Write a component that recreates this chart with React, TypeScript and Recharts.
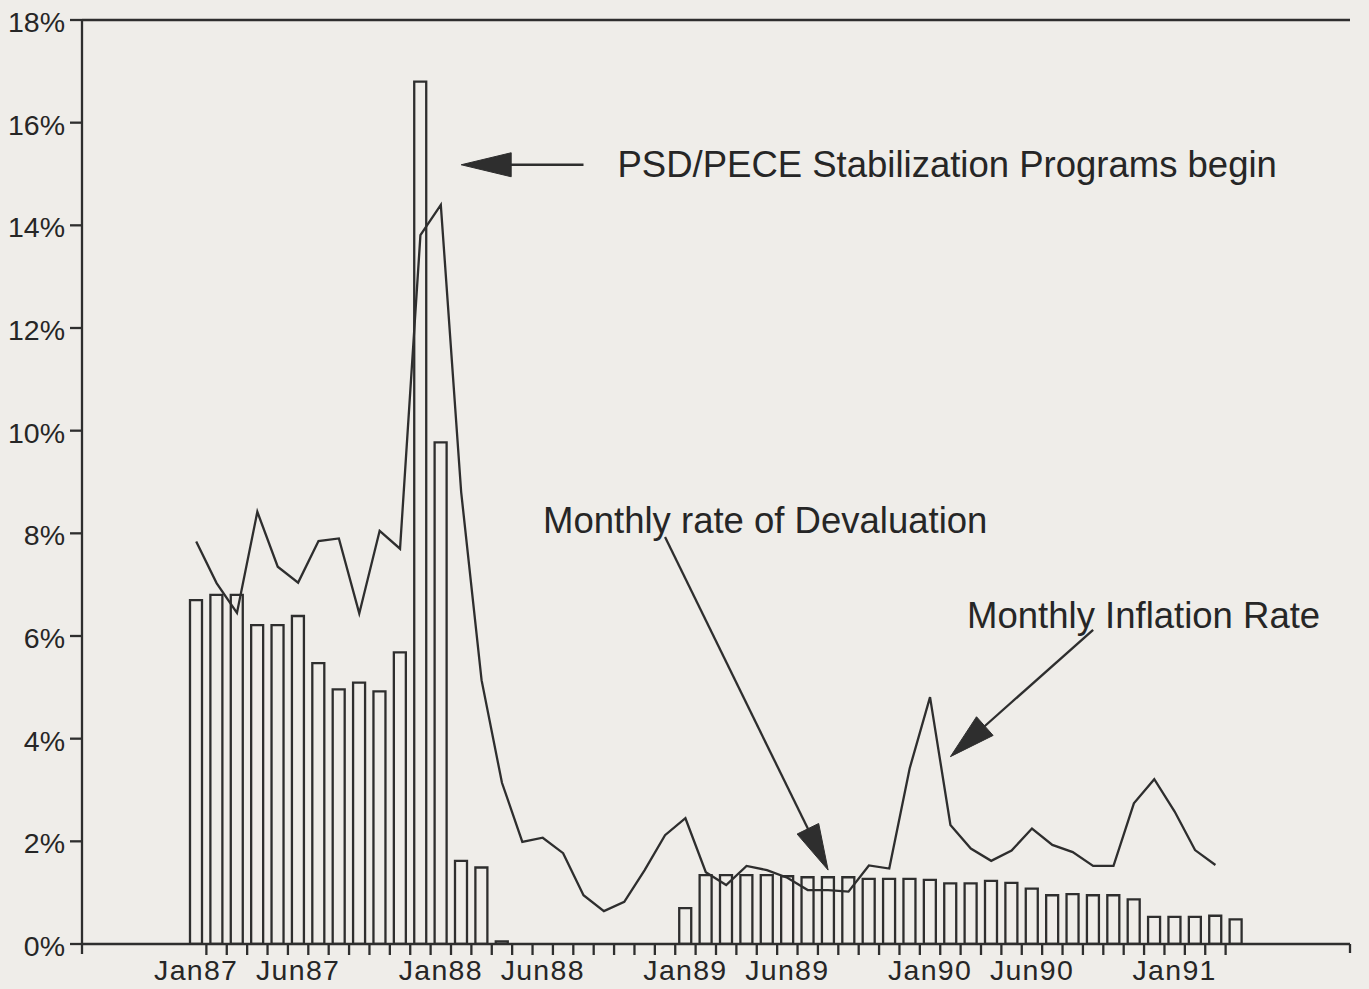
import React from 'react';
import { ComposedChart, Bar, Line, XAxis, YAxis, ReferenceLine } from 'recharts';

const MONTHS = [
  'Jan87', 'Feb87', 'Mar87', 'Apr87', 'May87', 'Jun87', 'Jul87', 'Aug87', 'Sep87', 'Oct87', 'Nov87', 'Dec87',
  'Jan88', 'Feb88', 'Mar88', 'Apr88', 'May88', 'Jun88', 'Jul88', 'Aug88', 'Sep88', 'Oct88', 'Nov88', 'Dec88',
  'Jan89', 'Feb89', 'Mar89', 'Apr89', 'May89', 'Jun89', 'Jul89', 'Aug89', 'Sep89', 'Oct89', 'Nov89', 'Dec89',
  'Jan90', 'Feb90', 'Mar90', 'Apr90', 'May90', 'Jun90', 'Jul90', 'Aug90', 'Sep90', 'Oct90', 'Nov90', 'Dec90',
  'Jan91', 'Feb91', 'Mar91', 'Apr91',
];

// Monthly rate of devaluation (%), bars
const DEVALUATION = [
  6.70, 6.80, 6.80, 6.21, 6.21, 6.39, 5.47, 4.96, 5.09, 4.92, 5.68, 16.80,
  9.77, 1.62, 1.49, 0.05, 0, 0, 0, 0, 0, 0, 0, 0,
  0.70, 1.34, 1.34, 1.34, 1.34, 1.32, 1.30, 1.30, 1.30, 1.27, 1.27, 1.27,
  1.25, 1.18, 1.18, 1.23, 1.19, 1.08, 0.95, 0.97, 0.95, 0.95, 0.87, 0.53,
  0.53, 0.53, 0.55, 0.48,
];

// Monthly inflation rate (%), line
const INFLATION: (number | null)[] = [
  7.84, 7.03, 6.45, 8.42, 7.35, 7.04, 7.85, 7.90, 6.44, 8.05, 7.70, 13.81,
  14.40, 8.80, 5.14, 3.14, 1.99, 2.07, 1.77, 0.95, 0.64, 0.82, 1.44, 2.12,
  2.45, 1.40, 1.15, 1.52, 1.44, 1.29, 1.05, 1.05, 1.02, 1.53, 1.47, 3.42,
  4.81, 2.32, 1.86, 1.62, 1.82, 2.25, 1.93, 1.79, 1.52, 1.52, 2.74, 3.21,
  2.58, 1.83, 1.54, null,
];

const TICK_LABELS = ['Jan87', 'Jun87', 'Jan88', 'Jun88', 'Jan89', 'Jun89', 'Jan90', 'Jun90', 'Jan91'];
const Y_TICKS = [0, 2, 4, 6, 8, 10, 12, 14, 16, 18];

// Annotation anchors (category, value)
const PSD_ARROW = [{ x: 'Aug88', y: 15.18 }, { x: 'Feb88', y: 15.18 }];
const DEV_ARROW = [{ x: 'Dec88', y: 7.93 }, { x: 'Aug89', y: 1.44 }];
const INF_ARROW = [{ x: 'Sep90', y: 6.12 }, { x: 'Feb90', y: 3.65 }];

const data = MONTHS.map((m, i) => ({ month: m, dev: DEVALUATION[i], inf: INFLATION[i] }));

const W = 1369;
const H = 989;
const MARGIN = { top: 20, right: 19, left: 0, bottom: 0 };
const YAXIS_W = 82;
const XAXIS_H = 45;
const PAD = 104;
const PLOT_LEFT = MARGIN.left + YAXIS_W;
const PLOT_RIGHT = W - MARGIN.right;
const BAND = (PLOT_RIGHT - PLOT_LEFT - 2 * PAD) / MONTHS.length;

const INK = '#2e2e2e';
const TEXT = '#262626';
const BG = '#efede9';
const SW = 2.3;
const FONT = "'Liberation Sans', Arial, Helvetica, sans-serif";

const XTick = (props: any) => {
  const { x, y, payload } = props;
  const i = payload && payload.index != null ? payload.index : props.index;
  const half = BAND / 2;
  const showLabel = TICK_LABELS.includes(payload.value);
  return (
    <g>
      {i < MONTHS.length - 1 && (
        <line x1={x + half} x2={x + half} y1={y} y2={y + 11} stroke={INK} strokeWidth={SW} />
      )}
      {showLabel && (
        <text x={x} y={y + 35.5} textAnchor="middle" fontSize={28.5} letterSpacing={1.3} fontFamily={FONT} fill={TEXT}>
          {payload.value}
        </text>
      )}
      {i === 0 && (
        <g>
          <line x1={PLOT_LEFT} x2={PLOT_LEFT} y1={y} y2={y + 10} stroke={INK} strokeWidth={SW} />
          <line x1={PLOT_RIGHT} x2={PLOT_RIGHT} y1={y} y2={y + 9} stroke={INK} strokeWidth={SW} />
        </g>
      )}
    </g>
  );
};

const YTick = (props: any) => {
  const { x, y, payload } = props;
  return (
    <text x={x} y={y + 12} textAnchor="end" fontSize={28.5} fontFamily={FONT} fill={TEXT}>
      {payload.value}%
    </text>
  );
};

function arrowParts(x1: number, y1: number, x2: number, y2: number, len: number, hw: number) {
  const dx = x2 - x1;
  const dy = y2 - y1;
  const d = Math.sqrt(dx * dx + dy * dy) || 1;
  const ux = dx / d;
  const uy = dy / d;
  const bx = x2 - ux * len;
  const by = y2 - uy * len;
  const nx = -uy;
  const ny = ux;
  const pts = `${x2},${y2} ${bx + nx * hw},${by + ny * hw} ${bx - nx * hw},${by - ny * hw}`;
  return { bx: bx + ux * 4, by: by + uy * 4, pts };
}

const makeArrowShape = (text: string, tdx: number, tdy: number, len: number, hw: number) => (p: any) => {
  const { x1, y1, x2, y2 } = p;
  const a = arrowParts(x1, y1, x2, y2, len, hw);
  return (
    <g>
      <line x1={x1} y1={y1} x2={a.bx} y2={a.by} stroke={INK} strokeWidth={SW} />
      <polygon points={a.pts} fill={INK} stroke={INK} strokeWidth={1} />
      <text x={x1 + tdx} y={y1 + tdy} fontSize={36.5} fontFamily={FONT} fill={TEXT}>
        {text}
      </text>
    </g>
  );
};

export default function App() {
  return (
    <div style={{ position: 'absolute', left: 0, top: 0, width: W, height: H, background: BG, overflow: 'hidden' }}>
      <ComposedChart width={W} height={H} data={data} margin={MARGIN}>
        <XAxis
          dataKey="month"
          type="category"
          interval={0}
          height={XAXIS_H}
          padding={{ left: PAD, right: PAD }}
          tickSize={0}
          tickMargin={0}
          tickLine={false}
          axisLine={{ stroke: INK, strokeWidth: SW }}
          tick={XTick}
        />
        <YAxis
          type="number"
          domain={[0, 18]}
          ticks={Y_TICKS}
          interval={0}
          width={YAXIS_W}
          tickSize={12}
          tickMargin={5}
          tickLine={{ stroke: INK, strokeWidth: SW }}
          axisLine={{ stroke: INK, strokeWidth: SW }}
          tick={YTick}
          allowDataOverflow
        />
        <YAxis
          yAxisId="right"
          orientation="right"
          type="number"
          domain={[0, 18]}
          width={0}
          tick={false}
          tickLine={false}
          axisLine={{ stroke: INK, strokeWidth: SW }}
        />
        <ReferenceLine y={18} stroke={INK} strokeWidth={SW} />
        <Bar dataKey="dev" barSize={12} fill="none" stroke={INK} strokeWidth={SW} isAnimationActive={false} />
        <Line
          dataKey="inf"
          type="linear"
          stroke={INK}
          strokeWidth={SW}
          dot={false}
          activeDot={false}
          isAnimationActive={false}
        />
        <ReferenceLine
          segment={PSD_ARROW}
          ifOverflow="visible"
          shape={makeArrowShape('PSD/PECE Stabilization Programs begin', 34, 12, 50, 12)}
        />
        <ReferenceLine
          segment={DEV_ARROW}
          ifOverflow="visible"
          shape={makeArrowShape('Monthly rate of Devaluation', -122, -4, 46, 12)}
        />
        <ReferenceLine
          segment={INF_ARROW}
          ifOverflow="visible"
          shape={makeArrowShape('Monthly Inflation Rate', -126, -2, 46, 12.5)}
        />
      </ComposedChart>
    </div>
  );
}
